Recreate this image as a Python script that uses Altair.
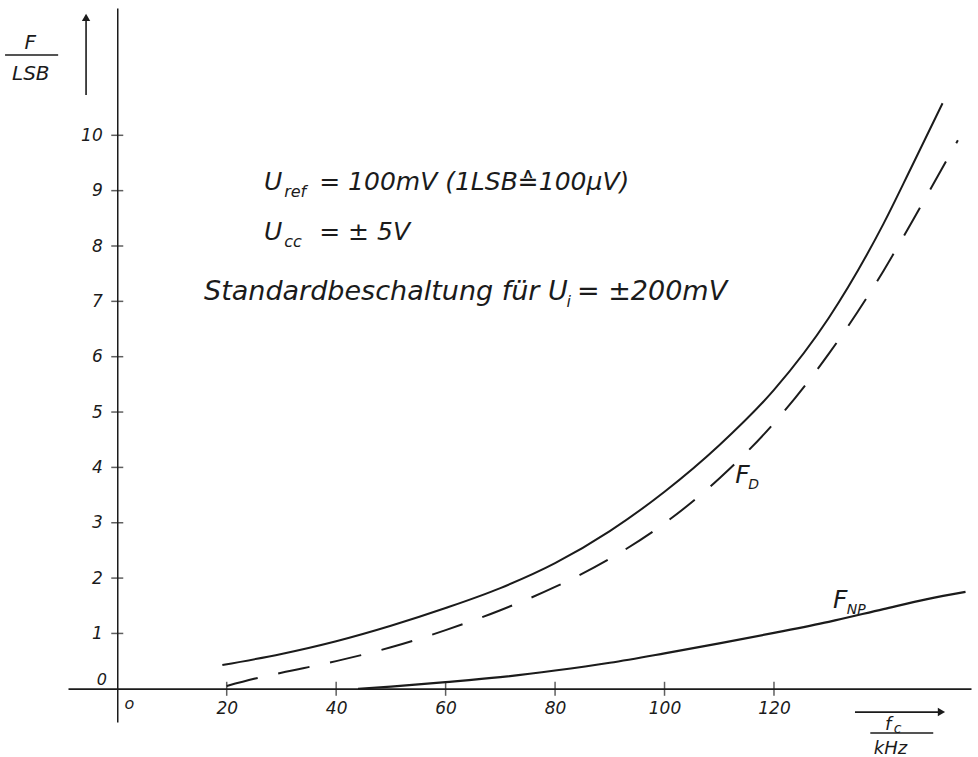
import altair as alt
import pandas as pd

# ---------------- data ----------------
fc_total = [19.2, 30, 40, 50, 60, 70, 80, 90, 100, 110, 120, 130, 140, 145, 150.8]
F_total = [0.43, 0.63, 0.86, 1.14, 1.46, 1.82, 2.27, 2.85, 3.56, 4.40, 5.40, 6.70, 8.40, 9.40, 10.58]

fc_dash = [20, 25, 30, 40, 50, 60, 70, 80, 90, 100, 110, 120, 130, 140, 147, 153.6]
F_dash = [0.05, 0.18, 0.29, 0.50, 0.75, 1.06, 1.42, 1.84, 2.35, 2.99, 3.80, 4.80, 6.05, 7.55, 8.75, 9.91]

fc_np = [44, 50, 60, 70, 80, 90, 100, 110, 120, 130, 140, 148, 155]
F_np = [0.0, 0.04, 0.12, 0.21, 0.33, 0.47, 0.64, 0.82, 1.01, 1.21, 1.44, 1.62, 1.75]

x_ticks = [20, 40, 60, 80, 100, 120]
y_ticks = [1, 2, 3, 4, 5, 6, 7, 8, 9, 10]

# ---------------- styling ----------------
FONT = "DejaVu Sans"
INK = "#1b1b1b"
X_DOMAIN = [-9, 156]
Y_DOMAIN = [-0.6, 12.3]
W, H = 903, 714

x_axis = alt.Axis(values=x_ticks, title=None, grid=False, ticks=False, tickSize=0,
                  labelPadding=12, labelFont=FONT, labelFontStyle="italic",
                  labelFontSize=17, labelColor=INK, domainColor=INK, domainWidth=1.7,
                  offset=-33.4, labelFlush=False, labelOverlap=False)
y_axis = alt.Axis(values=y_ticks, title=None, grid=False, ticks=False, tickSize=0,
                  labelPadding=15, labelFont=FONT, labelFontStyle="italic",
                  labelFontSize=17, labelColor=INK, domainColor=INK, domainWidth=1.5,
                  offset=-49.25, labelFlush=False, labelOverlap=False)

def X(field="x"):
    return alt.X(f"{field}:Q", scale=alt.Scale(domain=X_DOMAIN, nice=False, zero=False), axis=x_axis)

def Y(field="y"):
    return alt.Y(f"{field}:Q", scale=alt.Scale(domain=Y_DOMAIN, nice=False, zero=False), axis=y_axis)

def line(xs, ys, **kw):
    df = pd.DataFrame({"x": xs, "y": ys})
    return alt.Chart(df).mark_line(color=INK, interpolate="monotone", **kw).encode(x=X(), y=Y())

solid = line(fc_total, F_total, strokeWidth=2)
dashed = line(fc_dash, F_dash, strokeWidth=2, strokeDash=[32, 21])
np_line = line(fc_np, F_np, strokeWidth=2.2)

# crossing tick marks on the axes
yt = alt.Chart(pd.DataFrame({"x": [0] * len(y_ticks), "y": y_ticks})).mark_tick(
    orient="horizontal", size=12, thickness=1.5, color=INK).encode(x=X(), y=Y())
xt = alt.Chart(pd.DataFrame({"x": x_ticks, "y": [0] * len(x_ticks)})).mark_tick(
    orient="vertical", size=14, thickness=1.5, color=INK).encode(x=X(), y=Y())

# ---------------- annotations (positions in data units) ----------------
main_small = pd.DataFrame({
    "x": [26.83, 36.9, 26.83, 36.9],
    "y": [9.01, 9.01, 8.11, 8.11],
    "t": ["U", "= 100mV (1LSB\u2259100\u00b5V)", "U", "= \u00b1 5V"],
})
main_big = pd.DataFrame({
    "x": [15.86, 84.0],
    "y": [7.02, 7.02],
    "t": ["Standardbeschaltung f\u00fcr U", "= \u00b1200mV"],
})
sub_txt = pd.DataFrame({
    "x": [30.5, 30.5, 82.1],
    "y": [9.01, 8.11, 7.02],
    "t": ["ref", "cc", "i"],
})

def text_layer(df, size, dy=0, align="left"):
    return alt.Chart(df).mark_text(font=FONT, fontStyle="italic", fontSize=size, color=INK,
                                   align=align, baseline="alphabetic", dy=dy).encode(
        x=X(), y=Y(), text="t:N")

main_layer1 = text_layer(main_small, 25)
main_layer2 = text_layer(main_big, 27)
sub_layer = text_layer(sub_txt, 16, dy=7)

curve_F = text_layer(pd.DataFrame({"x": [112.9, 130.8], "y": [3.72, 1.46], "t": ["F", "F"]}), 25)
curve_sub = text_layer(pd.DataFrame({"x": [115.3, 133.3], "y": [3.72, 1.46], "t": ["D", "NP"]}), 14, dy=6)

# axis titles
ytitle = text_layer(pd.DataFrame({"x": [-15.9, -15.8], "y": [11.56, 11.0], "t": ["F", "LSB"]}), 20, align="center")
xtitle_f = text_layer(pd.DataFrame({"x": [140.3], "y": [-0.74], "t": ["f"]}), 18)
xtitle_c = text_layer(pd.DataFrame({"x": [141.9], "y": [-0.74], "t": ["c"]}), 14, dy=3)
xtitle_u = text_layer(pd.DataFrame({"x": [141.3], "y": [-1.18], "t": ["kHz"]}), 18, align="center")

zeros = alt.Chart(pd.DataFrame({"x": [2.2, -2.8], "y": [-0.28, 0.15], "t": ["o", "0"]})).mark_text(
    font=FONT, fontStyle="italic", fontSize=16, color=INK, align="center", baseline="middle").encode(
    x=X(), y=Y(), text="t:N")

frac = alt.Chart(pd.DataFrame({"x": [-20.5, 137.6], "x2": [-10.8, 149.1], "y": [11.45, -0.80]})).mark_rule(
    color=INK, strokeWidth=1.4).encode(x=X(), x2="x2:Q", y=Y())

y_arrow = alt.Chart(pd.DataFrame({"x": [-5.7], "y": [10.73], "y2": [12.1]})).mark_rule(
    color=INK, strokeWidth=1.6).encode(x=X(), y=Y(), y2="y2:Q")
y_head = alt.Chart(pd.DataFrame({"x": [-5.7], "y": [12.13]})).mark_point(
    shape="triangle-up", filled=True, size=70, color=INK, opacity=1).encode(x=X(), y=Y())
x_arrow = alt.Chart(pd.DataFrame({"x": [134.8], "x2": [150.2], "y": [-0.42]})).mark_rule(
    color=INK, strokeWidth=1.8).encode(x=X(), x2="x2:Q", y=Y())
x_head = alt.Chart(pd.DataFrame({"x": [150.6], "y": [-0.42]})).mark_point(
    shape="triangle-right", filled=True, size=70, color=INK, opacity=1).encode(x=X(), y=Y())

chart = alt.layer(
    solid, dashed, np_line, yt, xt, main_layer1, main_layer2, sub_layer, curve_F, curve_sub,
    ytitle, xtitle_f, xtitle_c, xtitle_u, zeros, frac, y_arrow, y_head, x_arrow, x_head,
).properties(
    width=W, height=H,
    autosize=alt.AutoSizeParams(type="none"),
    padding={"left": 68, "top": 8, "right": 7, "bottom": 35},
    background="white",
).configure_view(stroke=None)

chart.save("out.html", embed_options={"renderer": "svg", "actions": False})
